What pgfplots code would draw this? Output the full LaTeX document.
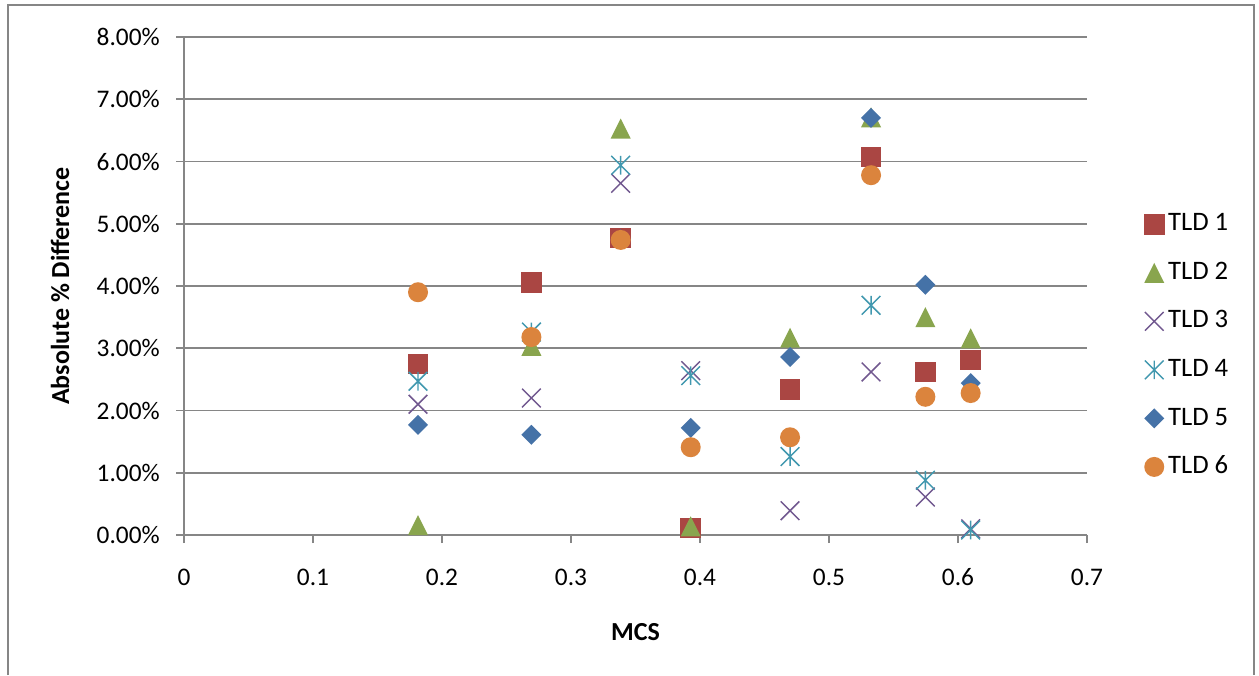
\documentclass[border=0pt]{standalone}
\usepackage{pgfplots}
\pgfplotsset{compat=1.18}
\usepackage{fontspec}
\setmainfont{Carlito}

\definecolor{gridgray}{RGB}{134,134,134}
\definecolor{cRed}{RGB}{170,70,67}
\definecolor{cGreen}{RGB}{137,165,78}
\definecolor{cPurple}{RGB}{113,88,143}
\definecolor{cCyan}{RGB}{65,152,175}
\definecolor{cBlue}{RGB}{69,114,167}
\definecolor{cOrange}{RGB}{219,132,61}

\pgfdeclareplotmark{mysq}{%
  \pgfpathrectangle{\pgfqpoint{-\pgfplotmarksize}{-\pgfplotmarksize}}{\pgfqpoint{2\pgfplotmarksize}{2\pgfplotmarksize}}%
  \pgfusepathqfill}
\pgfdeclareplotmark{mytri}{%
  \pgfpathmoveto{\pgfqpoint{0pt}{\pgfplotmarksize}}%
  \pgfpathlineto{\pgfqpoint{\pgfplotmarksize}{-\pgfplotmarksize}}%
  \pgfpathlineto{\pgfqpoint{-\pgfplotmarksize}{-\pgfplotmarksize}}%
  \pgfpathclose\pgfusepathqfill}
\pgfdeclareplotmark{mydiam}{%
  \pgfpathmoveto{\pgfqpoint{0pt}{\pgfplotmarksize}}%
  \pgfpathlineto{\pgfqpoint{\pgfplotmarksize}{0pt}}%
  \pgfpathlineto{\pgfqpoint{0pt}{-\pgfplotmarksize}}%
  \pgfpathlineto{\pgfqpoint{-\pgfplotmarksize}{0pt}}%
  \pgfpathclose\pgfusepathqfill}
\pgfdeclareplotmark{mycirc}{%
  \pgfpathcircle{\pgfpointorigin}{\pgfplotmarksize}\pgfusepathqfill}
\pgfdeclareplotmark{myx}{%
  \pgfpathmoveto{\pgfqpoint{-\pgfplotmarksize}{-\pgfplotmarksize}}%
  \pgfpathlineto{\pgfqpoint{\pgfplotmarksize}{\pgfplotmarksize}}%
  \pgfpathmoveto{\pgfqpoint{-\pgfplotmarksize}{\pgfplotmarksize}}%
  \pgfpathlineto{\pgfqpoint{\pgfplotmarksize}{-\pgfplotmarksize}}%
  \pgfusepathqstroke}
\pgfdeclareplotmark{mystar}{%
  \pgfpathmoveto{\pgfqpoint{-\pgfplotmarksize}{-\pgfplotmarksize}}%
  \pgfpathlineto{\pgfqpoint{\pgfplotmarksize}{\pgfplotmarksize}}%
  \pgfpathmoveto{\pgfqpoint{-\pgfplotmarksize}{\pgfplotmarksize}}%
  \pgfpathlineto{\pgfqpoint{\pgfplotmarksize}{-\pgfplotmarksize}}%
  \pgfpathmoveto{\pgfqpoint{0pt}{-\pgfplotmarksize}}%
  \pgfpathlineto{\pgfqpoint{0pt}{\pgfplotmarksize}}%
  \pgfusepathqstroke}

\begin{document}
\begin{tikzpicture}
\useasboundingbox (0,0) rectangle (944.25pt,506.25pt);
\begin{axis}[
  at={(138pt,105pt)}, anchor=south west,
  width=677.25pt, height=373.5pt, scale only axis,
  xmin=0, xmax=0.7, ymin=0, ymax=8,
  clip=false,
  axis lines=left,
  axis line style={-, draw=gridgray, line width=1.2pt},
  xtick={0,0.1,0.2,0.3,0.4,0.5,0.6,0.7},
  xticklabels={0,0.1,0.2,0.3,0.4,0.5,0.6,0.7},
  ytick={0,1,2,3,4,5,6,7,8},
  yticklabels={0.00\%,1.00\%,2.00\%,3.00\%,4.00\%,5.00\%,6.00\%,7.00\%,8.00\%},
  ymajorgrids,
  grid style={draw=gridgray, line width=1.2pt},
  tick align=outside,
  major tick length=6pt,
  tick style={draw=gridgray, line width=1.2pt},
  ticklabel style={font=\fontsize{19}{21}\selectfont},
  yticklabel style={inner sep=0pt, xshift=-12pt},
  xticklabel style={inner sep=0pt, yshift=-19pt},
  xlabel={MCS},
  ylabel={Absolute \% Difference},
  xlabel style={font=\bfseries\fontsize{19.5}{22}\selectfont, at={(axis description cs:0.5,-0.1948)}, anchor=center},
  ylabel style={font=\bfseries\fontsize{19.5}{22}\selectfont, at={(axis description cs:-0.1373,0.5)}, anchor=center},
  legend style={at={(1.0628,0.6486)}, anchor=north west, draw=none, fill=none,
    inner sep=0pt, row sep=18.4pt,
    font=\fontsize{20}{22}\selectfont,
    nodes={inner sep=0pt, text height=14pt, text depth=4pt},
    /tikz/every odd column/.append style={column sep=2.7pt}},
  legend cell align=left,
]
\addplot[only marks, mark=mysq, mark size=7.7pt, color=cRed, fill=cRed] coordinates {
  (0.1814,2.75) (0.2693,4.06) (0.3385,4.77) (0.3928,0.11) (0.4698,2.34) (0.5326,6.07) (0.5747,2.62) (0.6098,2.81)};
\addlegendentry{TLD 1}
\addplot[only marks, mark=mytri, mark size=7.5pt, color=cGreen, fill=cGreen] coordinates {
  (0.1814,0.16) (0.2693,3.04) (0.3385,6.53) (0.3928,0.14) (0.4698,3.17) (0.5326,6.71) (0.5747,3.50) (0.6098,3.16)};
\addlegendentry{TLD 2}
\addplot[only marks, mark=myx, mark size=7pt, color=cPurple, line width=1.1pt] coordinates {
  (0.1814,2.10) (0.2693,2.20) (0.3385,5.65) (0.3928,2.64) (0.4698,0.39) (0.5326,2.62) (0.5747,0.61) (0.6098,0.10)};
\addlegendentry{TLD 3}
\addplot[only marks, mark=mystar, mark size=7pt, color=cCyan, line width=1.1pt] coordinates {
  (0.1814,2.47) (0.2693,3.26) (0.3385,5.94) (0.3928,2.56) (0.4698,1.26) (0.5326,3.69) (0.5747,0.88) (0.6098,0.08)};
\addlegendentry{TLD 4}
\addplot[only marks, mark=mydiam, mark size=7.5pt, color=cBlue, fill=cBlue] coordinates {
  (0.1814,1.77) (0.2693,1.61) (0.3385,4.75) (0.3928,1.72) (0.4698,2.86) (0.5326,6.70) (0.5747,4.02) (0.6098,2.44)};
\addlegendentry{TLD 5}
\addplot[only marks, mark=mycirc, mark size=7.5pt, color=cOrange, fill=cOrange] coordinates {
  (0.1814,3.90) (0.2693,3.18) (0.3385,4.74) (0.3928,1.41) (0.4698,1.57) (0.5326,5.78) (0.5747,2.22) (0.6098,2.28)};
\addlegendentry{TLD 6}
\end{axis}
\draw[gridgray, line width=0.9pt] (6pt,0pt) -- (6pt,502.5pt) -- (940.5pt,502.5pt) -- (940.5pt,0pt);
\end{tikzpicture}
\end{document}
